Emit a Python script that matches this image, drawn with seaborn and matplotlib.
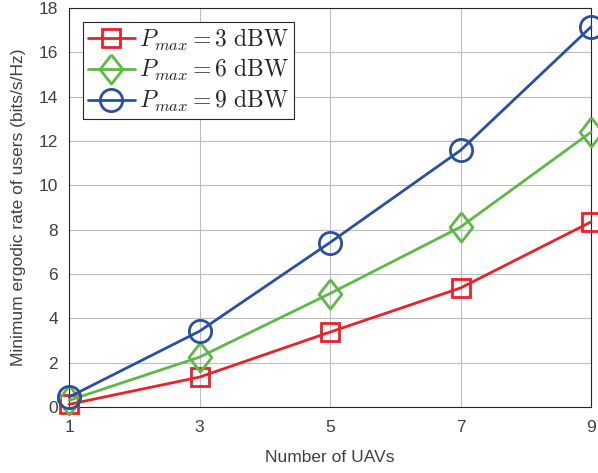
import matplotlib
matplotlib.use("Agg")
import matplotlib.pyplot as plt
import seaborn as sns
import pandas as pd
import numpy as np

num_uavs = [1, 3, 5, 7, 9]
rate_3dbw = [0.12, 1.35, 3.38, 5.37, 8.35]
rate_6dbw = [0.30, 2.25, 5.12, 8.12, 12.40]
rate_9dbw = [0.45, 3.42, 7.42, 11.58, 17.15]
labels = [r'$P_{max}=3\ \mathrm{dBW}$', r'$P_{max}=6\ \mathrm{dBW}$', r'$P_{max}=9\ \mathrm{dBW}$']
x_ticks = [1, 3, 5, 7, 9]
y_ticks = [0, 2, 4, 6, 8, 10, 12, 14, 16, 18]

sns.set_style("whitegrid")
plt.rcParams['font.family'] = ['Liberation Sans', 'DejaVu Sans']
plt.rcParams['mathtext.fontset'] = 'cm'

fig = plt.figure(figsize=(5.98, 4.73), dpi=100)
ax = fig.add_axes([0.1154, 0.1395, 0.8729, 0.8435])

diamond = [(0, 1), (0.78, 0), (0, -1), (-0.78, 0), (0, 1)]
styles = [
    (rate_3dbw, '#E8212B', 's', 13),
    (rate_6dbw, '#5DB846', diamond, 21),
    (rate_9dbw, '#2A4EA0', 'o', 16),
]
for (vals, color, mk, ms), lab in zip(styles, labels):
    sns.lineplot(x=num_uavs, y=vals, ax=ax, color=color, marker=mk, markersize=ms,
                 markerfacecolor='none', markeredgecolor=color, markeredgewidth=2,
                 linewidth=2, label=lab, clip_on=False, zorder=3)

ax.set_xlim(1, 9)
ax.set_ylim(0, 18)
ax.set_xticks(x_ticks)
ax.set_yticks(y_ticks)
ax.tick_params(axis='both', labelsize=12.5, colors='#262626', labelcolor='#404040',
               direction='in', length=4)
ax.tick_params(axis='y', pad=8)
ax.tick_params(axis='x', pad=9)
ax.grid(True, color='#bdbdbd', linewidth=0.8)
for s in ax.spines.values():
    s.set_color('#262626')
    s.set_linewidth(0.8)
ax.set_xlabel('Number of UAVs', fontsize=12.5, color='#404040', labelpad=11)
ax.set_ylabel('Minimum ergodic rate of users (bits/s/Hz)', fontsize=12.5, color='#404040', labelpad=9)

leg = ax.legend(loc='upper left', bbox_to_anchor=(0.027, 0.965), fontsize=17, frameon=True,
                fancybox=False, edgecolor='#262626', framealpha=1, handlelength=2.0,
                borderpad=0.2, labelspacing=0.2, handletextpad=0.15, borderaxespad=0)
leg.get_frame().set_linewidth(0.8)

fig.savefig('out.png', dpi=100)
